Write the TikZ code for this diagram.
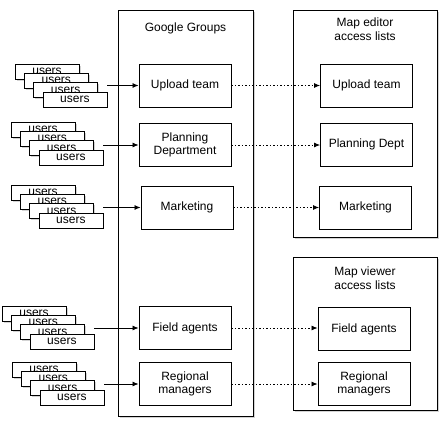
\documentclass[tikz,border=0pt]{standalone}
\usepackage{fontspec}
\setmainfont{Liberation Sans}
\usetikzlibrary{arrows.meta,shadows}

\begin{document}
\begin{tikzpicture}[x=1pt,y=-1pt,
  font=\fontsize{12}{13.5}\selectfont,
  shade/.style={drop shadow={shadow xshift=1.5pt,shadow yshift=-1.5pt,opacity=0.35}},
  panel/.style={draw,line width=0.9pt,fill=white,shade},
  group/.style={draw,line width=0.9pt,fill=white,minimum width=92pt,minimum height=43pt,align=center,inner sep=1pt},
  card/.style={draw,line width=0.8pt,fill=white,minimum width=64pt,minimum height=15pt,inner sep=0pt,shade},
  feed/.style={-{Latex[length=6pt,width=5pt]},line width=0.8pt},
  link/.style={feed,dash pattern=on 1.5pt off 2pt}]
\useasboundingbox (0,0) rectangle (443,421);

\node[panel,minimum width=135pt,minimum height=406pt] (GG) at (185.5,213) {};
\node (GGt) at (185.5,28) {Google Groups};
\node[panel,minimum width=144pt,minimum height=227pt] (ME) at (365,123.5) {};
\node[align=center] (MEt) at (365,29) {Map editor\\access lists};
\node[panel,minimum width=144pt,minimum height=153pt] (MV) at (365,333.5) {};
\node[align=center] (MVt) at (365,278) {Map viewer\\access lists};

\node[group] (G1) at (185,85.5) {Upload team};
\node[group] (G2) at (185,145) {Planning\\Department};
\node[group] (G3) at (187,207.5) {Marketing};
\node[group] (G4) at (185,328) {Field agents};
\node[group] (G5) at (185,384) {Regional\\managers};

\node[group] (E1) at (366.5,85.5) {Upload team};
\node[group] (E2) at (366.5,144.5) {Planning Dept};
\node[group] (E3) at (365.5,207.5) {Marketing};
\node[group] (V1) at (364,329) {Field agents};
\node[group] (V2) at (364,384) {Regional\\managers};

\foreach \s/\x/\y in {1/15/64,2/11/122,3/11/185,4/2/306,5/12/362}
  \foreach \i in {0,...,3}
    \node[card] (U\s\i) at (\x+32+9.3*\i,\y+7.5+9.3*\i) {users};

\draw[feed] (U13.east |- G1.west) -- (G1.west);
\draw[feed] (U23.east |- G2.west) -- (G2.west);
\draw[feed] (U33.east |- G3.west) -- (G3.west);
\draw[feed] (U43.east |- G4.west) -- (G4.west);
\draw[feed] (U53.east |- G5.west) -- (G5.west);

\draw[link] (G1.east) -- (G1.east -| E1.west);
\draw[link] (G2.east) -- (G2.east -| E2.west);
\draw[link] (G3.east) -- (G3.east -| E3.west);
\draw[link] (G4.east) -- (G4.east -| V1.west);
\draw[link] (G5.east) -- (G5.east -| V2.west);

\end{tikzpicture}
\end{document}
